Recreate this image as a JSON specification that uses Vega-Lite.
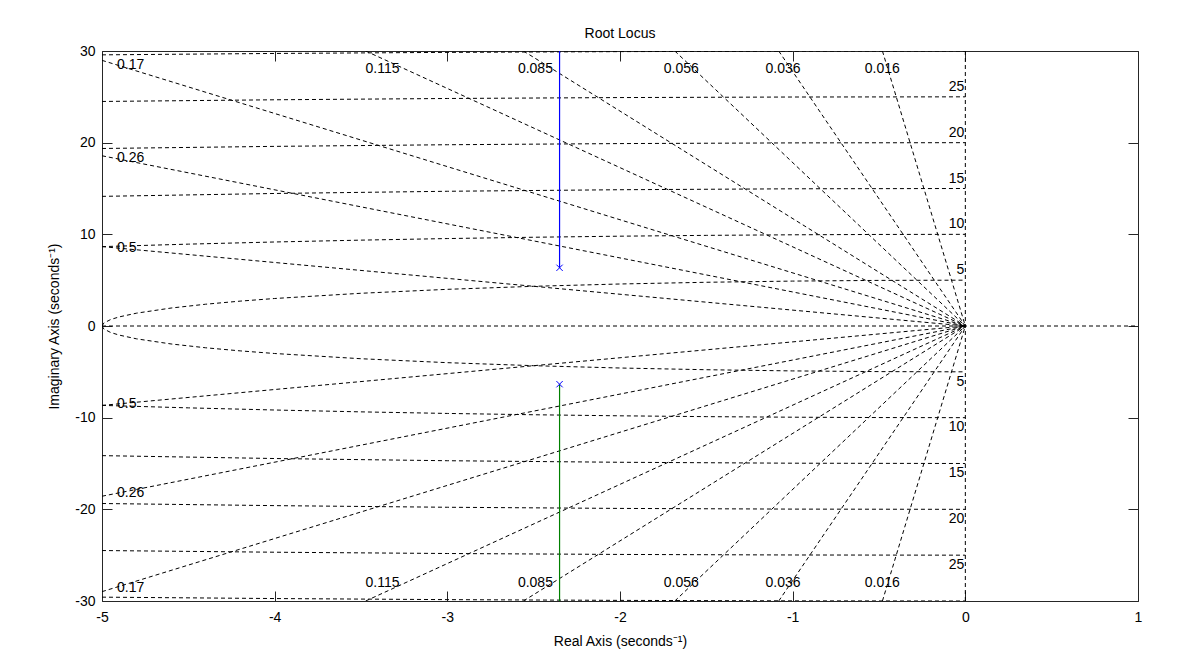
{
  "$schema": "https://vega.github.io/schema/vega-lite/v6.json",
  "width": 1036,
  "height": 550,
  "autosize": {"type": "none"},
  "padding": {"left": 102, "top": 51, "right": 55, "bottom": 60},
  "background": "#ffffff",
  "title": {"text": "Root Locus", "fontSize": 14, "fontWeight": "normal", "font": "Liberation Sans", "color": "#000000", "anchor": "middle", "baseline": "bottom", "offset": -11},
  "config": {
    "view": {"stroke": "#262626", "strokeWidth": 1},
    "font": "Liberation Sans",
    "axis": {"grid": false, "domain": false, "labelFontSize": 14, "titleFontSize": 14, "titleFontWeight": "normal", "labelColor": "#000000", "titleColor": "#000000", "tickColor": "#262626", "labelFlush": false, "labelOverlap": false, "labelFont": "Liberation Sans", "titleFont": "Liberation Sans"}
  },
  "datasets": {
    "grid": [
      {"g":"c5u","x":-5,"y":0},{"g":"c5u","x":-4.99,"y":0.316},{"g":"c5u","x":-4.95,"y":0.705},{"g":"c5u","x":-4.9,"y":0.995},{"g":"c5u","x":-4.8,"y":1.4},{"g":"c5u","x":-4.6,"y":1.96},{"g":"c5u","x":-4.4,"y":2.375},{"g":"c5u","x":-4.2,"y":2.713},{"g":"c5u","x":-4,"y":3},{"g":"c5u","x":-3.5,"y":3.571},{"g":"c5u","x":-3,"y":4},{"g":"c5u","x":-2.5,"y":4.33},{"g":"c5u","x":-2,"y":4.583},{"g":"c5u","x":-1.5,"y":4.77},{"g":"c5u","x":-1,"y":4.899},{"g":"c5u","x":-0.5,"y":4.975},{"g":"c5u","x":0,"y":5},
      {"g":"c5l","x":-5,"y":0},{"g":"c5l","x":-4.99,"y":-0.316},{"g":"c5l","x":-4.95,"y":-0.705},{"g":"c5l","x":-4.9,"y":-0.995},{"g":"c5l","x":-4.8,"y":-1.4},{"g":"c5l","x":-4.6,"y":-1.96},{"g":"c5l","x":-4.4,"y":-2.375},{"g":"c5l","x":-4.2,"y":-2.713},{"g":"c5l","x":-4,"y":-3},{"g":"c5l","x":-3.5,"y":-3.571},{"g":"c5l","x":-3,"y":-4},{"g":"c5l","x":-2.5,"y":-4.33},{"g":"c5l","x":-2,"y":-4.583},{"g":"c5l","x":-1.5,"y":-4.77},{"g":"c5l","x":-1,"y":-4.899},{"g":"c5l","x":-0.5,"y":-4.975},{"g":"c5l","x":0,"y":-5},
      {"g":"c10u","x":-5,"y":8.66},{"g":"c10u","x":-4.5,"y":8.93},{"g":"c10u","x":-4,"y":9.165},{"g":"c10u","x":-3.5,"y":9.367},{"g":"c10u","x":-3,"y":9.539},{"g":"c10u","x":-2.5,"y":9.682},{"g":"c10u","x":-2,"y":9.798},{"g":"c10u","x":-1.5,"y":9.887},{"g":"c10u","x":-1,"y":9.95},{"g":"c10u","x":-0.5,"y":9.987},{"g":"c10u","x":0,"y":10},
      {"g":"c10l","x":-5,"y":-8.66},{"g":"c10l","x":-4.5,"y":-8.93},{"g":"c10l","x":-4,"y":-9.165},{"g":"c10l","x":-3.5,"y":-9.367},{"g":"c10l","x":-3,"y":-9.539},{"g":"c10l","x":-2.5,"y":-9.682},{"g":"c10l","x":-2,"y":-9.798},{"g":"c10l","x":-1.5,"y":-9.887},{"g":"c10l","x":-1,"y":-9.95},{"g":"c10l","x":-0.5,"y":-9.987},{"g":"c10l","x":0,"y":-10},
      {"g":"c15u","x":-5,"y":14.142},{"g":"c15u","x":-4,"y":14.457},{"g":"c15u","x":-3,"y":14.697},{"g":"c15u","x":-2,"y":14.866},{"g":"c15u","x":-1,"y":14.967},{"g":"c15u","x":0,"y":15},
      {"g":"c15l","x":-5,"y":-14.142},{"g":"c15l","x":-4,"y":-14.457},{"g":"c15l","x":-3,"y":-14.697},{"g":"c15l","x":-2,"y":-14.866},{"g":"c15l","x":-1,"y":-14.967},{"g":"c15l","x":0,"y":-15},
      {"g":"c20u","x":-5,"y":19.365},{"g":"c20u","x":-4,"y":19.596},{"g":"c20u","x":-3,"y":19.774},{"g":"c20u","x":-2,"y":19.9},{"g":"c20u","x":-1,"y":19.975},{"g":"c20u","x":0,"y":20},
      {"g":"c20l","x":-5,"y":-19.365},{"g":"c20l","x":-4,"y":-19.596},{"g":"c20l","x":-3,"y":-19.774},{"g":"c20l","x":-2,"y":-19.9},{"g":"c20l","x":-1,"y":-19.975},{"g":"c20l","x":0,"y":-20},
      {"g":"c25u","x":-5,"y":24.495},{"g":"c25u","x":-4,"y":24.678},{"g":"c25u","x":-3,"y":24.819},{"g":"c25u","x":-2,"y":24.92},{"g":"c25u","x":-1,"y":24.98},{"g":"c25u","x":0,"y":25},
      {"g":"c25l","x":-5,"y":-24.495},{"g":"c25l","x":-4,"y":-24.678},{"g":"c25l","x":-3,"y":-24.819},{"g":"c25l","x":-2,"y":-24.92},{"g":"c25l","x":-1,"y":-24.98},{"g":"c25l","x":0,"y":-25},
      {"g":"c30u","x":-5,"y":29.58},{"g":"c30u","x":-4,"y":29.732},{"g":"c30u","x":-3,"y":29.85},{"g":"c30u","x":-2,"y":29.933},{"g":"c30u","x":-1,"y":29.983},{"g":"c30u","x":0,"y":30},
      {"g":"c30l","x":-5,"y":-29.58},{"g":"c30l","x":-4,"y":-29.732},{"g":"c30l","x":-3,"y":-29.85},{"g":"c30l","x":-2,"y":-29.933},{"g":"c30l","x":-1,"y":-29.983},{"g":"c30l","x":0,"y":-30},
      {"g":"z016u","x":0,"y":0},{"g":"z016u","x":-0.4801,"y":30},
      {"g":"z016l","x":0,"y":0},{"g":"z016l","x":-0.4801,"y":-30},
      {"g":"z036u","x":0,"y":0},{"g":"z036u","x":-1.0807,"y":30},
      {"g":"z036l","x":0,"y":0},{"g":"z036l","x":-1.0807,"y":-30},
      {"g":"z056u","x":0,"y":0},{"g":"z056u","x":-1.6826,"y":30},
      {"g":"z056l","x":0,"y":0},{"g":"z056l","x":-1.6826,"y":-30},
      {"g":"z085u","x":0,"y":0},{"g":"z085u","x":-2.5593,"y":30},
      {"g":"z085l","x":0,"y":0},{"g":"z085l","x":-2.5593,"y":-30},
      {"g":"z115u","x":0,"y":0},{"g":"z115u","x":-3.4731,"y":30},
      {"g":"z115l","x":0,"y":0},{"g":"z115l","x":-3.4731,"y":-30},
      {"g":"z17u","x":0,"y":0},{"g":"z17u","x":-5,"y":28.98},
      {"g":"z17l","x":0,"y":0},{"g":"z17l","x":-5,"y":-28.98},
      {"g":"z26u","x":0,"y":0},{"g":"z26u","x":-5,"y":18.57},
      {"g":"z26l","x":0,"y":0},{"g":"z26l","x":-5,"y":-18.57},
      {"g":"z5u","x":0,"y":0},{"g":"z5u","x":-5,"y":8.66},
      {"g":"z5l","x":0,"y":0},{"g":"z5l","x":-5,"y":-8.66},
      {"g":"re","x":-5,"y":0},{"g":"re","x":1,"y":0},
      {"g":"im","x":0,"y":-30},{"g":"im","x":0,"y":30}
    ],
    "locus": [
      {"b":"up","x":-2.35,"y":6.35},{"b":"up","x":-2.35,"y":30},
      {"b":"lo","x":-2.35,"y":-6.35},{"b":"lo","x":-2.35,"y":-30}
    ],
    "poles": [{"x":-2.35,"y":6.35},{"x":-2.35,"y":-6.35}],
    "leftlab": [
      {"t":"0.17","x":-4.913,"y":28.47},{"t":"0.26","x":-4.913,"y":18.29},{"t":"0.5","x":-4.913,"y":8.56},
      {"t":"0.5","x":-4.913,"y":-8.51},{"t":"0.26","x":-4.913,"y":-18.2},{"t":"0.17","x":-4.913,"y":-28.6}
    ],
    "midlab": [
      {"t":"0.115","x":-3.375,"y":28.04},{"t":"0.085","x":-2.49,"y":28.04},{"t":"0.056","x":-1.645,"y":28.04},{"t":"0.036","x":-1.056,"y":28.04},{"t":"0.016","x":-0.481,"y":28.04},
      {"t":"0.115","x":-3.375,"y":-28.07},{"t":"0.085","x":-2.49,"y":-28.07},{"t":"0.056","x":-1.645,"y":-28.07},{"t":"0.036","x":-1.056,"y":-28.07},{"t":"0.016","x":-0.481,"y":-28.07}
    ],
    "wnlab": [
      {"t":"25","x":0,"y":26.1},{"t":"20","x":0,"y":21.02},{"t":"15","x":0,"y":16.07},{"t":"10","x":0,"y":11.13},{"t":"5","x":0,"y":6.1},
      {"t":"5","x":0,"y":-6.08},{"t":"10","x":0,"y":-11.0},{"t":"15","x":0,"y":-16.0},{"t":"20","x":0,"y":-21.05},{"t":"25","x":0,"y":-26.07}
    ]
  },
  "resolve": {"axis": {"x": "independent", "y": "independent"}},
  "layer": [
    {
      "data": {"name": "grid"},
      "mark": {"type": "line", "stroke": "#000000", "strokeWidth": 1, "strokeDash": [4, 3], "clip": true},
      "encoding": {
        "x": {"field": "x", "type": "quantitative", "scale": {"domain": [-5, 1], "nice": false, "zero": false},
              "axis": {"orient": "bottom", "values": [-5,-4,-3,-2,-1,0,1], "tickSize": -10, "labelPadding": 19, "labelExpr": "'' + datum.value", "title": "Real Axis (seconds⁻¹)", "titlePadding": 10}},
        "y": {"field": "y", "type": "quantitative", "scale": {"domain": [-30, 30], "nice": false, "zero": false},
              "axis": {"orient": "left", "values": [-30,-20,-10,0,10,20,30], "tickSize": -10, "labelPadding": 17, "labelExpr": "'' + datum.value", "title": "Imaginary Axis (seconds⁻¹)", "titlePadding": 13}},
        "detail": {"field": "g", "type": "nominal"}
      }
    },
    {
      "data": {"name": "locus"},
      "mark": {"type": "line", "strokeWidth": 1.2, "clip": true},
      "encoding": {
        "x": {"field": "x", "type": "quantitative", "axis": null},
        "y": {"field": "y", "type": "quantitative", "axis": null},
        "color": {"field": "b", "type": "nominal", "scale": {"domain": ["up", "lo"], "range": ["#0000ff", "#008000"]}, "legend": null}
      }
    },
    {
      "data": {"name": "poles"},
      "mark": {"type": "point", "shape": "M-1,-1L1,1M1,-1L-1,1", "size": 40, "filled": false, "stroke": "#0000ff", "strokeWidth": 1, "opacity": 1},
      "encoding": {
        "x": {"field": "x", "type": "quantitative", "axis": null},
        "y": {"field": "y", "type": "quantitative", "axis": null}
      }
    },
    {
      "data": {"name": "leftlab"},
      "mark": {"type": "text", "align": "left", "baseline": "middle", "fontSize": 14, "font": "Liberation Sans", "color": "#000000"},
      "encoding": {
        "x": {"field": "x", "type": "quantitative", "axis": null},
        "y": {"field": "y", "type": "quantitative", "axis": null},
        "text": {"field": "t", "type": "nominal"}
      }
    },
    {
      "data": {"name": "midlab"},
      "mark": {"type": "text", "align": "center", "baseline": "middle", "fontSize": 14, "font": "Liberation Sans", "color": "#000000"},
      "encoding": {
        "x": {"field": "x", "type": "quantitative", "axis": null},
        "y": {"field": "y", "type": "quantitative", "axis": null},
        "text": {"field": "t", "type": "nominal"}
      }
    },
    {
      "data": {"name": "wnlab"},
      "mark": {"type": "text", "align": "right", "baseline": "middle", "dx": -1, "fontSize": 14, "font": "Liberation Sans", "color": "#000000"},
      "encoding": {
        "x": {"field": "x", "type": "quantitative", "axis": null},
        "y": {"field": "y", "type": "quantitative", "axis": null},
        "text": {"field": "t", "type": "nominal"}
      }
    },
    {
      "data": {"name": "poles"},
      "mark": {"type": "point", "opacity": 0},
      "encoding": {
        "x": {"field": "x", "type": "quantitative", "axis": {"orient": "top", "values": [-5,-4,-3,-2,-1,0,1], "tickSize": -10, "labels": false, "title": null}},
        "y": {"field": "y", "type": "quantitative", "axis": {"orient": "right", "values": [-30,-20,-10,0,10,20,30], "tickSize": -10, "labels": false, "title": null}}
      }
    }
  ]
}
